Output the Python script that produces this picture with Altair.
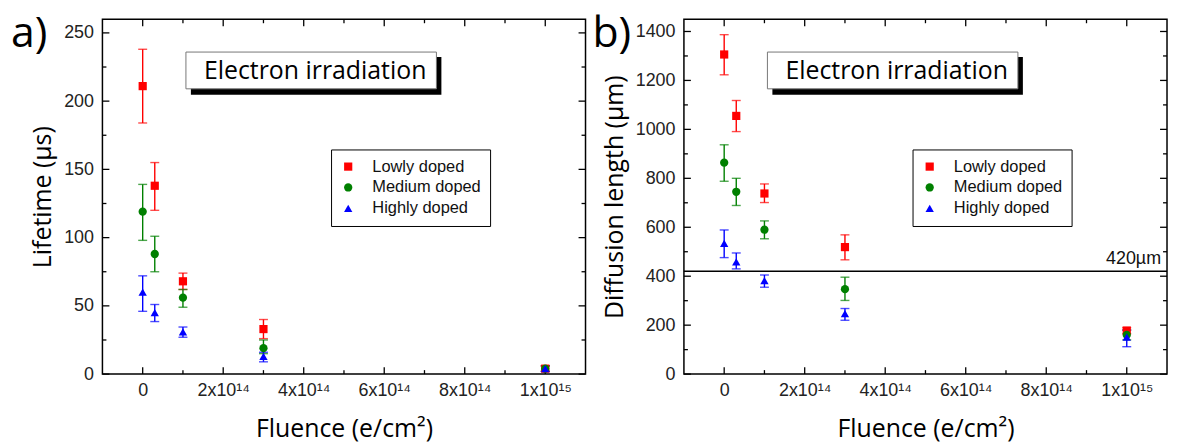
import altair as alt
import pandas as pd

# ---------------- data ----------------
fluence = [0, 3e13, 1e14, 3e14, 1e15]
groups = ["Lowly doped", "Medium doped", "Highly doped"]
colors = ["#ff0000", "#008000", "#0000ff"]
shapes = ["square", "circle", "triangle-up"]
marker_sizes = [68, 70, 95]

life_low = [211, 138, 68, 33, 4]
life_low_lo = [184, 120, 62, 26, 2]
life_low_hi = [238, 155, 74, 40, 6]
life_med = [119, 88, 56, 19, 4]
life_med_lo = [98, 75, 49, 15, 2]
life_med_hi = [139, 101, 62, 25, 6]
life_high = [60, 45, 31, 13, 4]
life_high_lo = [46, 38.5, 27, 9, 2]
life_high_hi = [72, 51, 34.5, 16, 6]

diff_low = [1306, 1055, 738, 519, 178]
diff_low_lo = [1223, 991, 701, 467, 165]
diff_low_hi = [1387, 1118, 777, 569, 190]
diff_med = [864, 745, 590, 347, 160]
diff_med_lo = [788, 689, 553, 301, 140]
diff_med_hi = [937, 800, 626, 396, 180]
diff_high = [534, 459, 382, 247, 151]
diff_high_lo = [476, 430, 355, 220, 112]
diff_high_hi = [589, 495, 405, 268, 180]

x_major = [0, 2e14, 4e14, 6e14, 8e14, 1e15]
x_minor = [1e14, 3e14, 5e14, 7e14, 9e14]
x_labels = ["0", "2x10¹⁴", "4x10¹⁴", "6x10¹⁴", "8x10¹⁴", "1x10¹⁵"]
x_domain = [-1e14, 1.1e15]

life_major = [0, 50, 100, 150, 200, 250]
life_minor = [25, 75, 125, 175, 225]
life_domain = [0, 260]

diff_major = [0, 200, 400, 600, 800, 1000, 1200, 1400]
diff_minor = [100, 300, 500, 700, 900, 1100, 1300]
diff_domain = [0, 1450]

threshold = [420]
threshold_label = ["420µm"]
box_text = ["Electron irradiation"]

W, H = 486, 357
TITLE_FONT = "Open Sans"
LABEL_FONT = "Liberation Sans"


def make_df(vals, los, his):
    rows = []
    for g, v, lo, hi in zip(groups, vals, los, his):
        for f, a, b, c in zip(fluence, v, lo, hi):
            rows.append({"f": f, "group": g, "v": a, "lo": b, "hi": c})
    return pd.DataFrame(rows)


def label_expr():
    parts = []
    for v, t in zip(x_major, x_labels):
        parts.append(f"datum.value == {float(v)!r} ? '{t}' : ")
    return "".join(parts) + "''"


def panel(df, ydomain, ymajor, yminor, ytitle, letter, line=False):
    xs = alt.Scale(domain=x_domain, nice=False, zero=False)
    ys = alt.Scale(domain=ydomain, nice=False, zero=False)
    cscale = alt.Scale(domain=groups, range=colors)
    sscale = alt.Scale(domain=groups, range=shapes)
    leg = alt.Legend(
        orient="none", legendX=230, legendY=131, title=None,
        strokeColor="black", fillColor="white", padding=9,
        labelFont=LABEL_FONT, labelFontSize=16.5, labelColor="#111",
        symbolSize=75, symbolStrokeWidth=0, symbolOpacity=1,
        labelOffset=16, rowPadding=4,
    )
    color_enc = alt.Color("group:N", scale=cscale, legend=leg)

    base = alt.Chart(df)
    bars = base.mark_rule(strokeWidth=1.4).encode(
        x=alt.X("f:Q", scale=xs),
        y=alt.Y("lo:Q", scale=ys),
        y2="hi:Q",
        color=color_enc,
    )
    caps_df = pd.concat([
        df[["f", "group", "lo"]].rename(columns={"lo": "c"}),
        df[["f", "group", "hi"]].rename(columns={"hi": "c"}),
    ])
    caps = alt.Chart(caps_df).mark_tick(orient="horizontal", size=9, thickness=1.4).encode(
        x=alt.X("f:Q", scale=xs),
        y=alt.Y("c:Q", scale=ys),
        color=color_enc,
    )
    pts = base.mark_point(filled=True, opacity=1).encode(
        x=alt.X("f:Q", scale=xs, axis=alt.Axis(
            values=x_major, labelExpr=label_expr(), ticks=False, domain=False, grid=False,
            labelPadding=8, title="Fluence (e/cm²)", titlePadding=17)),
        y=alt.Y("v:Q", scale=ys, axis=alt.Axis(
            values=ymajor, format="d", ticks=False, domain=False, grid=False,
            labelPadding=9, title=ytitle, titlePadding=8)),
        color=color_enc,
        shape=alt.Shape("group:N", scale=sscale, legend=leg),
        size=alt.Size("group:N", scale=alt.Scale(domain=groups, range=marker_sizes), legend=None),
    )

    # inward ticks
    xmaj = pd.DataFrame({"t": x_major})
    xmin = pd.DataFrame({"t": x_minor})
    ymaj = pd.DataFrame({"t": ymajor})
    ymin = pd.DataFrame({"t": yminor})
    tick_layers = []
    for d, L in ((xmaj, 7), (xmin, 4)):
        tick_layers.append(alt.Chart(d).mark_rule(color="black", strokeWidth=1.3).encode(
            x=alt.X("t:Q", scale=xs), y=alt.value(H), y2=alt.value(H - L)))
        tick_layers.append(alt.Chart(d).mark_rule(color="black", strokeWidth=1.3).encode(
            x=alt.X("t:Q", scale=xs), y=alt.value(0), y2=alt.value(L)))
    for d, L in ((ymaj, 7), (ymin, 4)):
        tick_layers.append(alt.Chart(d).mark_rule(color="black", strokeWidth=1.3).encode(
            y=alt.Y("t:Q", scale=ys), x=alt.value(0), x2=alt.value(L)))
        tick_layers.append(alt.Chart(d).mark_rule(color="black", strokeWidth=1.3).encode(
            y=alt.Y("t:Q", scale=ys), x=alt.value(W), x2=alt.value(W - L)))

    ann = alt.Chart(pd.DataFrame({"t": box_text}))
    shadow = ann.mark_rect(color="black").encode(
        x=alt.value(89), x2=alt.value(341), y=alt.value(38), y2=alt.value(76))
    box = ann.mark_rect(fill="white", stroke="#777", strokeWidth=1).encode(
        x=alt.value(84), x2=alt.value(336), y=alt.value(33), y2=alt.value(70))
    btxt = ann.mark_text(font=TITLE_FONT, fontSize=25, color="black", align="center",
                         baseline="middle").encode(
        x=alt.value(214), y=alt.value(52), text="t:N")
    lt = alt.Chart(pd.DataFrame({"t": [letter]})).mark_text(
        font=TITLE_FONT, fontSize=43, color="black", align="left", baseline="alphabetic").encode(
        x=alt.value(-92), y=alt.value(28), text="t:N")

    layers = tick_layers + [shadow, box, btxt, lt]
    if line:
        ldf = pd.DataFrame({"y": threshold, "t": threshold_label})
        layers.append(alt.Chart(ldf).mark_rule(color="black", strokeWidth=1.5).encode(
            y=alt.Y("y:Q", scale=ys)))
        layers.append(alt.Chart(ldf).mark_text(
            font=LABEL_FONT, fontSize=18, color="#111", align="right", baseline="bottom", dy=-3).encode(
            x=alt.value(W - 6), y=alt.Y("y:Q", scale=ys), text="t:N"))
    layers += [bars, caps, pts]
    return alt.layer(*layers).properties(width=W, height=H)


left = panel(make_df([life_low, life_med, life_high],
                     [life_low_lo, life_med_lo, life_high_lo],
                     [life_low_hi, life_med_hi, life_high_hi]),
             life_domain, life_major, life_minor, "Lifetime (µs)", "a)")
right = panel(make_df([diff_low, diff_med, diff_high],
                      [diff_low_lo, diff_med_lo, diff_high_lo],
                      [diff_low_hi, diff_med_hi, diff_high_hi]),
              diff_domain, diff_major, diff_minor, "Diffusion length (µm)", "b)", line=True)

chart = alt.HConcatChart(hconcat=[left, right], spacing=99, bounds="flush").resolve_scale(
    color="independent", shape="independent", size="independent"
).resolve_legend(color="independent", shape="independent").properties(
    padding={"left": 2, "top": 3, "right": 0, "bottom": 0}
).configure(
    background="white",
    view=alt.ViewConfig(stroke="black", strokeWidth=1.5),
    axis=alt.AxisConfig(
        labelFont=LABEL_FONT, labelFontSize=18, labelColor="#222",
        titleFont=TITLE_FONT, titleFontSize=25, titleFontWeight="normal", titleColor="black",
    ),
)

chart.save("out.html", embed_options={"renderer": "svg", "actions": False})
